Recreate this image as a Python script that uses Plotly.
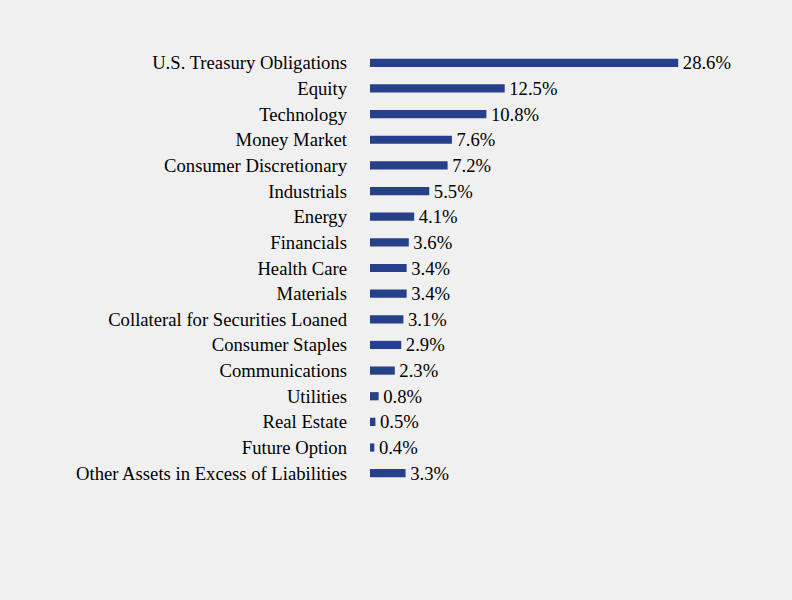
import plotly.graph_objects as go

categories = ["U.S. Treasury Obligations", "Equity", "Technology", "Money Market",
              "Consumer Discretionary", "Industrials", "Energy", "Financials",
              "Health Care", "Materials", "Collateral for Securities Loaned",
              "Consumer Staples", "Communications", "Utilities", "Real Estate",
              "Future Option", "Other Assets in Excess of Liabilities"]
values = [28.6, 12.5, 10.8, 7.6, 7.2, 5.5, 4.1, 3.6, 3.4, 3.4, 3.1, 2.9, 2.3, 0.8, 0.5, 0.4, 3.3]
labels = ["\u200a" + f"{v:.1f}%" for v in values]

FS = 18.67
FONT = "Liberation Serif, Times New Roman, serif"

fig = go.Figure(go.Bar(
    x=values, y=categories, orientation="h",
    marker=dict(color="#27408b", line=dict(width=0)),
    width=0.32,
    text=labels, textposition="outside", cliponaxis=False, constraintext="none",
    textfont=dict(family=FONT, size=FS, color="#000000"),
    outsidetextfont=dict(family=FONT, size=FS, color="#000000"),
    hoverinfo="skip",
))
fig.update_layout(
    width=792, height=600,
    paper_bgcolor="#f0f0f0", plot_bgcolor="#f0f0f0",
    margin=dict(l=370, r=34, t=50, b=114),
    showlegend=False,
    font=dict(family=FONT, size=FS, color="#000000"),
    xaxis=dict(range=[0, 36], showgrid=False, zeroline=False, showticklabels=False, showline=False),
    yaxis=dict(autorange="reversed", showgrid=False, zeroline=False, showline=False,
               ticks="", ticklabelstandoff=22,
               tickfont=dict(family=FONT, size=FS, color="#000000")),
)
fig.write_html("out.html", config={"displayModeBar": False})

with open("out.html", "r", encoding="utf-8") as f:
    html = f.read()
html = html.replace("<body>", '<body style="margin:0;padding:0;background:#f0f0f0">', 1)
with open("out.html", "w", encoding="utf-8") as f:
    f.write(html)
